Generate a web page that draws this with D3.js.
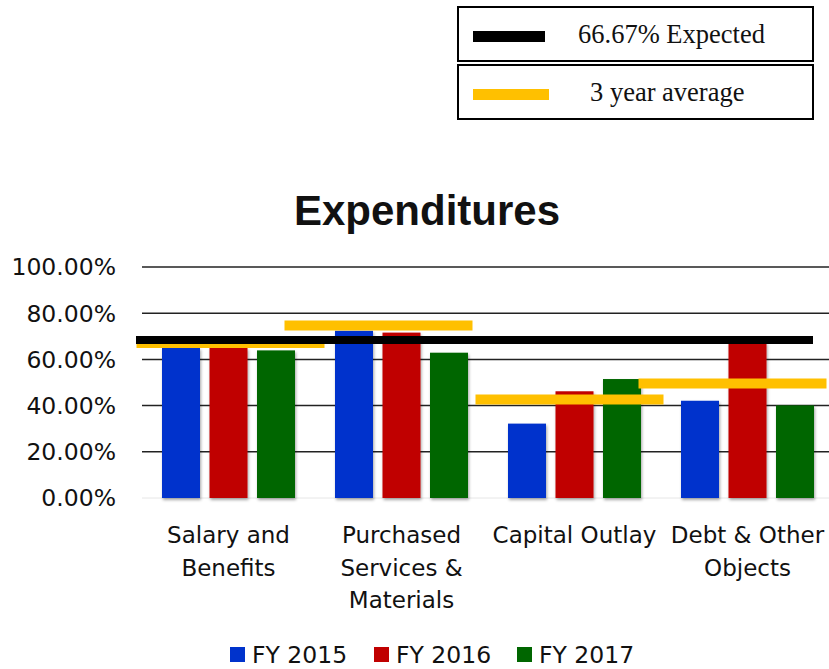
<!DOCTYPE html>
<html>
<head>
<meta charset="utf-8">
<script src="https://cdn.jsdelivr.net/npm/d3@7"></script>
<style>
  body { margin: 0; background: #fff; }
  text { fill: #111; }
</style>
</head>
<body>
<script>
// data
var categories = ["Salary and Benefits", "Purchased Services & Materials", "Capital Outlay", "Debt & Other Objects"];
var categoryLines = [["Salary and", "Benefits"], ["Purchased", "Services &", "Materials"], ["Capital Outlay"], ["Debt & Other", "Objects"]];
var seriesNames = ["FY 2015", "FY 2016", "FY 2017"];
var fy2015 = [65.0, 72.4, 32.2, 42.1];
var fy2016 = [65.0, 71.6, 46.2, 67.5];
var fy2017 = [63.9, 62.9, 51.5, 40.1];
var threeYearAvg = [67.1, 74.7, 42.6, 49.6];
var expected = 68.4;
var yTicks = [0, 20, 40, 60, 80, 100];

var colors = ["#0033cc", "#c00000", "#006600"];
var avgColor = "#ffc000";
// the average bars are pasted shapes, a bit off their groups
var avgShift = [2, -23, -5, -15];

var width = 829, height = 669;
var svg = d3.select("body").append("svg")
    .attr("width", width)
    .attr("height", height);

var defs = svg.append("defs");
var shadow = defs.append("filter").attr("id", "shadow")
    .attr("x", "-20%").attr("y", "-10%").attr("width", "140%").attr("height", "130%");
shadow.append("feDropShadow")
    .attr("dx", 1).attr("dy", 2).attr("stdDeviation", 1.5)
    .attr("flood-color", "#000").attr("flood-opacity", 0.35);

var x0 = d3.scaleBand().domain(categories).range([142, 834]);
var x1 = d3.scaleBand().domain(seriesNames).range([20, x0.bandwidth() - 20]).paddingInner(0.2);
var y = d3.scaleLinear().domain([0, 100]).range([498, 267]);

var axisFont = "'DejaVu Sans', sans-serif";

// title
svg.append("text")
    .attr("x", 427).attr("y", 225)
    .attr("text-anchor", "middle")
    .style("font-family", "'Liberation Sans', Arial, sans-serif")
    .style("font-weight", "bold")
    .style("font-size", "42px")
    .text("Expenditures");

// gridlines
svg.append("g")
    .selectAll("line")
    .data(yTicks)
    .join("line")
    .attr("x1", 142).attr("x2", 829)
    .attr("y1", d => y(d)).attr("y2", d => y(d))
    .attr("stroke", d => d === 0 ? "#e6e6e6" : "#222")
    .attr("stroke-width", d => d === 0 ? 1 : 1.5);

// y axis labels
svg.append("g")
    .selectAll("text")
    .data(yTicks)
    .join("text")
    .attr("x", 116)
    .attr("y", d => y(d))
    .attr("dy", "0.36em")
    .attr("text-anchor", "end")
    .style("font-family", axisFont)
    .style("font-size", "23.5px")
    .text(d => d.toFixed(2) + "%");

// bars
var seriesData = [fy2015, fy2016, fy2017];
var groups = svg.append("g")
    .selectAll("g")
    .data(categories)
    .join("g")
    .attr("transform", d => "translate(" + x0(d) + ",0)");

groups.selectAll("rect")
    .data((c, i) => seriesNames.map((s, j) => ({ s: s, v: seriesData[j][i], j: j })))
    .join("rect")
    .attr("x", d => x1(d.s))
    .attr("width", x1.bandwidth())
    .attr("y", d => y(d.v))
    .attr("height", d => y(0) - y(d.v))
    .attr("fill", d => colors[d.j])
    .attr("filter", "url(#shadow)");

// 3 year average bars
svg.append("g")
    .selectAll("line")
    .data(threeYearAvg)
    .join("line")
    .attr("x1", (d, i) => x0(categories[i]) + x0.bandwidth() / 2 + avgShift[i] - 94)
    .attr("x2", (d, i) => x0(categories[i]) + x0.bandwidth() / 2 + avgShift[i] + 94)
    .attr("y1", d => y(d)).attr("y2", d => y(d))
    .attr("stroke", avgColor)
    .attr("stroke-width", 10);

// expected line
svg.append("line")
    .attr("x1", 136).attr("x2", 813)
    .attr("y1", y(expected)).attr("y2", y(expected))
    .attr("stroke", "#000")
    .attr("stroke-width", 8);

// category labels
var catLabels = svg.append("g")
    .selectAll("text")
    .data(categories)
    .join("text")
    .attr("x", d => x0(d) + x0.bandwidth() / 2)
    .attr("y", 543)
    .attr("text-anchor", "middle")
    .style("font-family", axisFont)
    .style("font-size", "23px");

catLabels.selectAll("tspan")
    .data((d, i) => categoryLines[i])
    .join("tspan")
    .attr("x", function() { return this.parentNode.getAttribute("x"); })
    .attr("dy", (d, i) => i === 0 ? 0 : 32.5)
    .text(d => d);

// bottom legend
var legendX = [230, 374, 517];
var leg = svg.append("g")
    .selectAll("g")
    .data(seriesNames)
    .join("g")
    .attr("transform", (d, i) => "translate(" + legendX[i] + ",647)");
leg.append("rect")
    .attr("width", 15).attr("height", 15)
    .attr("fill", (d, i) => colors[i]);
leg.append("text")
    .attr("x", 22).attr("y", 16)
    .style("font-family", axisFont)
    .style("font-size", "23.5px")
    .text(d => d);

// top legend boxes
var boxItems = [
    { label: "66.67% Expected", color: "#000", y: 7, sw: 72, tx: 578 },
    { label: "3 year average", color: avgColor, y: 65, sw: 76, tx: 590 }
];
var box = svg.append("g")
    .selectAll("g")
    .data(boxItems)
    .join("g")
    .attr("transform", d => "translate(458," + d.y + ")");
box.append("rect")
    .attr("width", 355).attr("height", 54)
    .attr("fill", "#fff")
    .attr("stroke", "#000")
    .attr("stroke-width", 2);
box.append("rect")
    .attr("x", 15).attr("y", 24)
    .attr("width", d => d.sw).attr("height", 11)
    .attr("fill", d => d.color);
box.append("text")
    .attr("x", d => d.tx - 458)
    .attr("y", 36)
    .style("font-family", "'Liberation Serif', 'Times New Roman', serif")
    .style("font-size", "26.5px")
    .text(d => d.label);
</script>
</body>
</html>
